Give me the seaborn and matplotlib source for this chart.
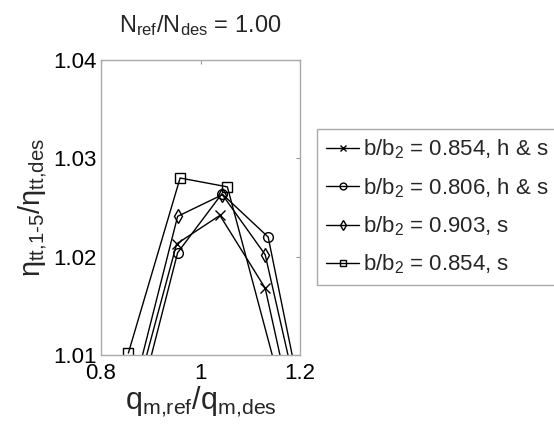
import matplotlib
matplotlib.use("Agg")
import matplotlib.pyplot as plt
import seaborn as sns
import pandas as pd

# Mass-flow ratio and efficiency ratio for each blade-height configuration
q_xh = [0.862, 0.952, 1.039, 1.130, 1.210]
eta_xh = [1.0044, 1.0213, 1.0242, 1.0168, 0.9985]

q_oh = [0.862, 0.954, 1.043, 1.136, 1.210]
eta_oh = [1.0022, 1.0204, 1.0264, 1.0220, 1.0036]

q_ds = [0.862, 0.954, 1.044, 1.130, 1.210]
eta_ds = [1.0057, 1.0241, 1.0263, 1.0202, 1.0024]

q_ss = [0.855, 0.959, 1.054, 1.150]
eta_ss = [1.0102, 1.0280, 1.0271, 1.0089]

labels = [r"b/b$_2$ = 0.854, h & s",
          r"b/b$_2$ = 0.806, h & s",
          r"b/b$_2$ = 0.903, s",
          r"b/b$_2$ = 0.854, s"]
markers = ["x", "o", "d", "s"]

x_ticks = [0.8, 1.0, 1.2]
x_tick_labels = ["0.8", "1", "1.2"]
y_ticks = [1.01, 1.02, 1.03, 1.04]
y_tick_labels = ["1.01", "1.02", "1.03", "1.04"]

sns.set_style("white")
plt.rcParams["font.family"] = ["Liberation Sans", "DejaVu Sans"]
plt.rcParams["mathtext.fontset"] = "custom"
plt.rcParams["mathtext.rm"] = "Liberation Sans"
plt.rcParams["mathtext.it"] = "Liberation Sans"
plt.rcParams["mathtext.bf"] = "Liberation Sans:bold"

fig = plt.figure(figsize=(5.54, 4.26), dpi=100)
ax = fig.add_axes([101 / 554, 1 - 355 / 426, 199 / 554, 295 / 426])

series = [(q_xh, eta_xh), (q_oh, eta_oh), (q_ds, eta_ds), (q_ss, eta_ss)]
for (q, eta), lab, mk in zip(series, labels, markers):
    df = pd.DataFrame({"q": q, "eta": eta})
    sns.lineplot(data=df, x="q", y="eta", sort=False, ax=ax, color="black",
                 lw=1.0, marker=mk, markersize=7, markerfacecolor="none",
                 markeredgecolor="black", markeredgewidth=1.0, label=lab)

ax.set_xlim(0.8, 1.2)
ax.set_ylim(1.01, 1.04)
ax.set_xticks(x_ticks)
ax.set_xticklabels(x_tick_labels)
ax.set_yticks(y_ticks)
ax.set_yticklabels(y_tick_labels)
ax.tick_params(direction="in", length=3, width=0.8, colors="#999999",
               labelcolor="black", labelsize=16, top=True, right=True, pad=3)
ax.tick_params(axis="x", pad=6)
for s in ax.spines.values():
    s.set_color("#aaaaaa")
    s.set_linewidth(1.0)

ax.set_xlabel(r"q$_{\text{m,ref}}$/q$_{\text{m,des}}$", fontsize=22, labelpad=0)
ax.set_ylabel(r"$\eta_{\text{tt,1-5}}/\eta_{\text{tt,des}}$", fontsize=21, labelpad=3)
ax.set_title(r"N$_{\text{ref}}$/N$_{\text{des}}$ = 1.00", fontsize=17, pad=20)

leg = ax.legend(loc="upper left", bbox_to_anchor=(317 / 554, 1 - 129 / 426),
                bbox_transform=fig.transFigure, borderaxespad=0, fontsize=16,
                handlelength=1.5, handletextpad=0.15, labelspacing=0.66,
                markerscale=0.7, fancybox=False, framealpha=1,
                edgecolor="#aaaaaa", borderpad=0.4)
leg.get_frame().set_linewidth(1.0)

fig.savefig("out.png", dpi=100)
